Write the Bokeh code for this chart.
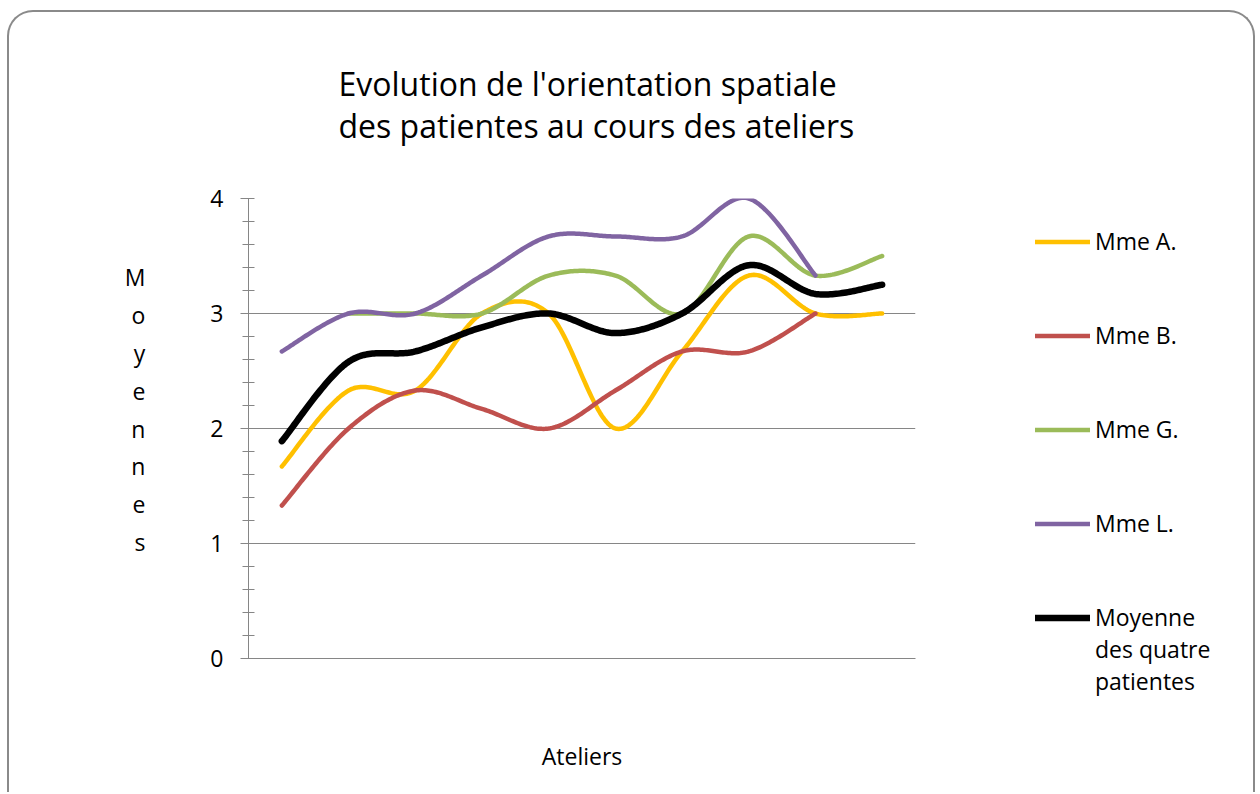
import numpy as np
from bokeh.plotting import figure
from bokeh.models import Range1d, FixedTicker, Legend, LegendItem
from bokeh.embed import file_html
from bokeh.resources import INLINE

# ---- data -------------------------------------------------------------
ateliers = [1, 2, 3, 4, 5, 6, 7, 8, 9, 10]
mme_a = [1.67, 2.33, 2.33, 3.0, 3.0, 2.0, 2.67, 3.33, 3.0, 3.0]
mme_b = [1.33, 2.0, 2.33, 2.17, 2.0, 2.33, 2.67, 2.67, 3.0, None]
mme_g = [None, 3.0, 3.0, 3.0, 3.33, 3.33, 3.0, 3.67, 3.33, 3.5]
mme_l = [2.67, 3.0, 3.0, 3.33, 3.67, 3.67, 3.67, 4.0, 3.33, None]
moyenne = [1.89, 2.58, 2.67, 2.88, 3.0, 2.83, 3.0, 3.42, 3.17, 3.25]

series_names = ["Mme A.", "Mme B.", "Mme G.", "Mme L.", "Moyenne\ndes quatre\npatientes"]
series_values = [mme_a, mme_b, mme_g, mme_l, moyenne]
series_colors = ["#FFC000", "#C0504D", "#9BBB59", "#8064A2", "#000000"]
series_widths = [4.5, 4.5, 4.5, 4.5, 6.5]

y_major = [0, 1, 2, 3, 4]
y_minor = [round(0.2 * k, 1) for k in range(21)]

title_text = "Evolution de l'orientation spatiale\ndes patientes au cours des ateliers"
y_title = "Moyennes"
x_title = "Ateliers"

FONT = "Open Sans"
GRAY = "#868686"


def smooth(xs, ys, n=40):
    """Excel-like smoothed line (Catmull-Rom as cubic Bezier) through the points."""
    out_x, out_y = [], []
    pts = [(x, y) for x, y in zip(xs, ys) if y is not None]
    if len(pts) < 2:
        return out_x, out_y
    P = np.array(pts, dtype=float)
    m = len(P)
    for i in range(m - 1):
        p0 = P[i - 1] if i > 0 else P[i]
        p1 = P[i]
        p2 = P[i + 1]
        p3 = P[i + 2] if i + 2 < m else P[i + 1]
        c1 = p1 + (p2 - p0) / 6.0
        c2 = p2 - (p3 - p1) / 6.0
        t = np.linspace(0, 1, n)[:, None]
        seg = ((1 - t) ** 3) * p1 + 3 * ((1 - t) ** 2) * t * c1 + 3 * (1 - t) * t ** 2 * c2 + t ** 3 * p2
        if i > 0:
            seg = seg[1:]
        out_x.extend(seg[:, 0].tolist())
        out_y.extend(seg[:, 1].tolist())
    return out_x, out_y


# ---- main chart -------------------------------------------------------
p = figure(
    width=1248, height=782,
    x_range=Range1d(0.5, 10.5), y_range=Range1d(0, 4),
    output_backend="svg", toolbar_location=None,
    min_border_left=239, min_border_right=342,
    min_border_top=186, min_border_bottom=136,
)
p.styles = {
    "margin-left": "7px",
    "margin-top": "10px",
    "border-top": "2px solid #8a8a8a",
    "border-left": "2px solid #8a8a8a",
    "border-right": "2px solid #8a8a8a",
    "border-top-left-radius": "26px",
    "border-top-right-radius": "26px",
}
p.border_fill_color = None
p.background_fill_color = None
p.outline_line_color = None

# title
p.title.text = title_text
p.title.align = "left"
p.title.vertical_align = "top"
p.title.offset = 90
p.title.standoff = 98
p.title.text_font = FONT
p.title.text_font_size = "32px"
p.title.text_font_style = "normal"
p.title.text_color = "#000000"
p.title.text_line_height = 0.99

# y axis
p.yaxis.ticker = FixedTicker(ticks=y_major, minor_ticks=y_minor)
p.yaxis.axis_line_color = GRAY
p.yaxis.major_tick_line_color = GRAY
p.yaxis.minor_tick_line_color = GRAY
p.yaxis.major_tick_out = 8
p.yaxis.major_tick_in = 0
p.yaxis.minor_tick_out = 6
p.yaxis.minor_tick_in = 6
p.yaxis.major_label_text_font = FONT
p.yaxis.major_label_text_font_size = "23px"
p.yaxis.major_label_text_color = "#000000"
p.yaxis.major_label_standoff = 17
p.yaxis.axis_label = "\n".join(y_title) + "\n "
p.yaxis.axis_label_orientation = "horizontal"
p.yaxis.axis_label_text_font = FONT
p.yaxis.axis_label_text_font_size = "23px"
p.yaxis.axis_label_text_font_style = "normal"
p.yaxis.axis_label_text_color = "#000000"
p.yaxis.axis_label_text_line_height = 1.18
p.yaxis.axis_label_text_align = "center"
p.yaxis.axis_label_standoff = 62

# x axis
p.xaxis.ticker = FixedTicker(ticks=[])
p.xaxis.axis_line_color = GRAY
p.xaxis.major_tick_line_color = None
p.xaxis.minor_tick_line_color = None
p.xaxis.major_tick_out = 0
p.xaxis.minor_tick_out = 0
p.xaxis.major_label_text_font_size = "0px"
p.xaxis.major_label_standoff = 0
p.xaxis.axis_label = x_title
p.xaxis.axis_label_text_font = FONT
p.xaxis.axis_label_text_font_size = "23px"
p.xaxis.axis_label_text_font_style = "normal"
p.xaxis.axis_label_text_color = "#000000"
p.xaxis.axis_label_standoff = 81

# grid
p.xgrid.grid_line_color = None
p.ygrid.ticker = FixedTicker(ticks=[1, 2, 3, 4])
p.ygrid.grid_line_color = GRAY
p.ygrid.grid_line_width = 1

# lines
for vals, col, w in zip(series_values, series_colors, series_widths):
    sx, sy = smooth(ateliers, vals)
    p.line(sx, sy, line_color=col, line_width=w, line_cap="round", line_join="round")

# ---- legend, drawn in a transparent overlay to the right of the plot area
lg = figure(
    width=342, height=782,
    x_range=Range1d(0, 1), y_range=Range1d(0, 1),
    x_axis_location=None, y_axis_location=None,
    output_backend="svg", toolbar_location=None,
    min_border_left=0, min_border_right=0, min_border_top=0, min_border_bottom=0,
)
lg.styles = {"position": "absolute", "left": "915px", "top": "12px"}
lg.border_fill_color = None
lg.background_fill_color = None
lg.outline_line_color = None
lg.grid.visible = False

nan2 = np.array([np.nan, np.nan])
blank = lg.line(nan2, nan2, line_alpha=0)
items = [LegendItem(label=" ", renderers=[blank]) for _ in range(3)]
for k, (name, col, w) in enumerate(zip(series_names, series_colors, series_widths)):
    proxy = lg.line(nan2, nan2, line_color=col, line_width=w, line_cap="round")
    lines = name.split("\n")
    items.append(LegendItem(label=lines[0], renderers=[proxy]))
    for extra in lines[1:]:
        items.append(LegendItem(label=extra, renderers=[blank]))
    if k < len(series_names) - 1:
        items.append(LegendItem(label=" ", renderers=[blank]))
        items.append(LegendItem(label=" ", renderers=[blank]))

legend = Legend(
    items=items, location="top_left", orientation="vertical", ncols=1,
    glyph_width=55, glyph_height=31, label_height=31, spacing=0,
    label_standoff=5, padding=0, margin=120,
    border_line_color=None, background_fill_alpha=0,
    label_text_font=FONT, label_text_font_size="23px",
    label_text_color="#000000",
)
lg.add_layout(legend)

open("out.html", "w").write(file_html([p, lg], INLINE))
